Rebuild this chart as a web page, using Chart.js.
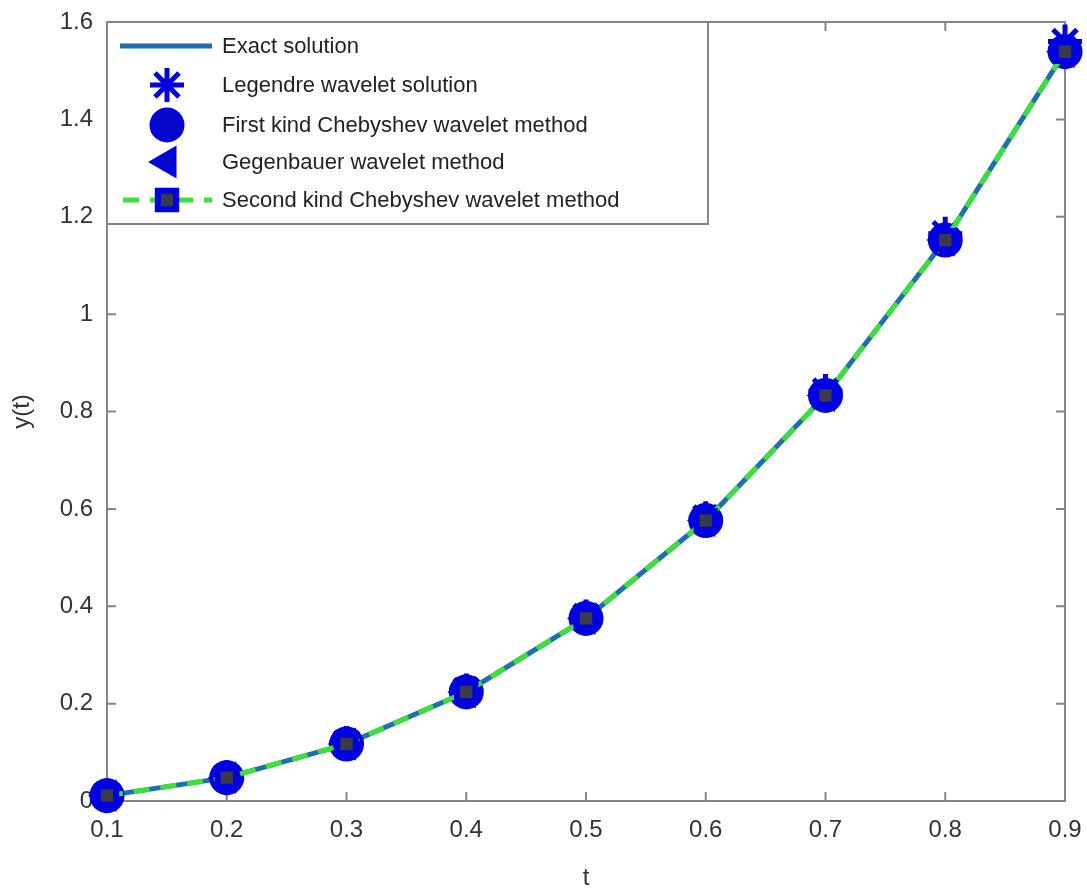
<!DOCTYPE html>
<html>
<head>
<meta charset="utf-8">
<script src="https://cdn.jsdelivr.net/npm/chart.js@4.4.1/dist/chart.umd.min.js"></script>
<style>
  html, body { margin: 0; padding: 0; background: #fff; }
  #wrap { width: 1087px; height: 893px; }
</style>
</head>
<body>
<div id="wrap"><canvas id="chart" width="1087" height="893"></canvas></div>
<script>
// values
const tValues = [0.1, 0.2, 0.3, 0.4, 0.5, 0.6, 0.7, 0.8, 0.9];
const exactValues = [0.011, 0.048, 0.117, 0.224, 0.375, 0.576, 0.833, 1.152, 1.539];
const legendreValues = [0.012, 0.049, 0.119, 0.227, 0.379, 0.581, 0.842, 1.165, 1.560];
const cheb1Values = [0.011, 0.048, 0.117, 0.224, 0.375, 0.576, 0.833, 1.152, 1.539];
const gegenValues = [0.011, 0.048, 0.117, 0.224, 0.375, 0.576, 0.833, 1.152, 1.539];
const cheb2Values = [0.011, 0.048, 0.117, 0.224, 0.375, 0.576, 0.833, 1.152, 1.539];
const xTicks = [0.1, 0.2, 0.3, 0.4, 0.5, 0.6, 0.7, 0.8, 0.9];
const yTicks = [0, 0.2, 0.4, 0.6, 0.8, 1, 1.2, 1.4, 1.6];

const FONT = '"Liberation Sans", Arial, sans-serif';
const AXIS_GRAY = '#858585';
const TEXT = '#333333';
const BLUE = '#0000e0';

const toPoints = vals => vals.map((v, i) => ({ x: tValues[i], y: v }));

// MATLAB style box with inward ticks on all four sides
const boxPlugin = {
  id: 'matlabBox',
  beforeDatasetsDraw(chart) {
    const { ctx, chartArea: a, scales } = chart;
    ctx.save();
    ctx.strokeStyle = AXIS_GRAY;
    ctx.lineWidth = 2;
    ctx.strokeRect(a.left, a.top, a.right - a.left, a.bottom - a.top);
    const len = 9;
    ctx.beginPath();
    xTicks.forEach(v => {
      const x = scales.x.getPixelForValue(v);
      ctx.moveTo(x, a.bottom); ctx.lineTo(x, a.bottom - len);
      ctx.moveTo(x, a.top); ctx.lineTo(x, a.top + len);
    });
    yTicks.forEach(v => {
      const y = scales.y.getPixelForValue(v);
      ctx.moveTo(a.left, y); ctx.lineTo(a.left + len, y);
      ctx.moveTo(a.right, y); ctx.lineTo(a.right - len, y);
    });
    ctx.stroke();
    ctx.restore();
  }
};

// legend box in the upper left corner of the axes
const legendPlugin = {
  id: 'matlabLegend',
  afterDatasetsDraw(chart) {
    const { ctx, chartArea: a } = chart;
    const box = { x: a.left, y: a.top, w: 601, h: 202 };
    ctx.save();
    ctx.fillStyle = '#fff';
    ctx.fillRect(box.x, box.y, box.w, box.h);
    ctx.strokeStyle = AXIS_GRAY;
    ctx.lineWidth = 2;
    ctx.strokeRect(box.x, box.y, box.w, box.h);

    const rowY = [46, 85, 125, 162, 200];
    chart.data.datasets.forEach((ds, i) => {
      const y = rowY[i];
      if (ds.showLine) {
        ctx.save();
        ctx.strokeStyle = ds.borderColor;
        ctx.lineWidth = ds.borderWidth;
        ctx.setLineDash(ds.borderDash || []);
        ctx.lineDashOffset = ds.borderDash ? -3 : 0;
        ctx.beginPath();
        ctx.moveTo(120, y); ctx.lineTo(212, y);
        ctx.stroke();
        ctx.restore();
      }
      if (ds.pointRadius > 0) {
        const opts = {
          pointStyle: ds.pointStyle,
          rotation: ds.pointRotation || 0,
          radius: ds.pointRadius,
          borderWidth: ds.pointBorderWidth
        };
        ctx.save();
        ctx.fillStyle = ds.pointBackgroundColor;
        ctx.strokeStyle = ds.pointBorderColor;
        ctx.lineWidth = ds.pointBorderWidth;
        Chart.helpers.drawPoint(ctx, opts, 167, y);
        ctx.restore();
      }
      ctx.fillStyle = '#222';
      ctx.font = '22px ' + FONT;
      ctx.textBaseline = 'middle';
      ctx.textAlign = 'left';
      ctx.fillText(ds.label, 222, y + 1);
    });
    ctx.restore();
  }
};

new Chart(document.getElementById('chart'), {
  type: 'scatter',
  data: {
    datasets: [
      {
        label: 'Exact solution',
        data: toPoints(exactValues),
        showLine: true,
        borderColor: '#1f6fb0',
        borderWidth: 5,
        pointRadius: 0,
        tension: 0,
        order: 6
      },
      {
        label: 'Legendre wavelet solution',
        data: toPoints(legendreValues),
        showLine: false,
        pointStyle: 'star',
        pointRadius: 17,
        pointBorderWidth: 5,
        pointBorderColor: BLUE,
        pointBackgroundColor: BLUE,
        order: 3
      },
      {
        label: 'First kind Chebyshev wavelet method',
        data: toPoints(cheb1Values),
        showLine: false,
        pointStyle: 'circle',
        pointRadius: 16,
        pointBorderWidth: 3,
        pointBorderColor: BLUE,
        pointBackgroundColor: '#0808cc',
        order: 5
      },
      {
        label: 'Gegenbauer wavelet method',
        data: toPoints(gegenValues),
        showLine: false,
        pointStyle: 'triangle',
        pointRotation: 270,
        pointRadius: 16,
        pointBorderWidth: 3,
        pointBorderColor: BLUE,
        pointBackgroundColor: '#0808cc',
        order: 4
      },
      {
        label: 'Second kind Chebyshev wavelet method',
        data: toPoints(cheb2Values),
        showLine: true,
        borderColor: '#3be03b',
        borderWidth: 5,
        borderDash: [16, 11],
        tension: 0,
        pointStyle: 'rect',
        pointRadius: 13,
        pointBorderWidth: 6,
        pointBorderColor: BLUE,
        pointBackgroundColor: '#3a3a48',
        order: 2
      }
    ]
  },
  options: {
    responsive: false,
    animation: false,
    layout: { padding: { top: 20, right: 22, left: 0, bottom: 0 } },
    datasets: { scatter: { clip: false } },
    plugins: { legend: { display: false }, tooltip: { enabled: false } },
    scales: {
      x: {
        type: 'linear',
        min: 0.1,
        max: 0.9,
        afterBuildTicks: s => { s.ticks = xTicks.map(v => ({ value: v })); },
        afterFit: s => { s.height = 92; s.paddingLeft = 0; s.paddingRight = 0; },
        grid: { display: false, drawTicks: false },
        border: { display: false },
        ticks: {
          color: TEXT,
          font: { family: FONT, size: 24 },
          padding: 15,
          maxRotation: 0,
          callback: v => String(v)
        },
        title: {
          display: true,
          text: 't',
          color: TEXT,
          font: { family: FONT, size: 24 },
          padding: { top: 0, bottom: 0 }
        }
      },
      y: {
        type: 'linear',
        min: 0,
        max: 1.6,
        afterBuildTicks: s => { s.ticks = yTicks.map(v => ({ value: v })); },
        afterFit: s => { s.width = 107; s.paddingTop = 0; s.paddingBottom = 0; },
        grid: { display: false, drawTicks: false },
        border: { display: false },
        ticks: {
          color: TEXT,
          font: { family: FONT, size: 24 },
          padding: 14,
          callback: v => String(v)
        },
        title: {
          display: true,
          text: 'y(t)',
          color: TEXT,
          font: { family: FONT, size: 24 },
          padding: { top: 8, bottom: 0 }
        }
      }
    }
  },
  plugins: [boxPlugin, legendPlugin]
});
</script>
</body>
</html>
